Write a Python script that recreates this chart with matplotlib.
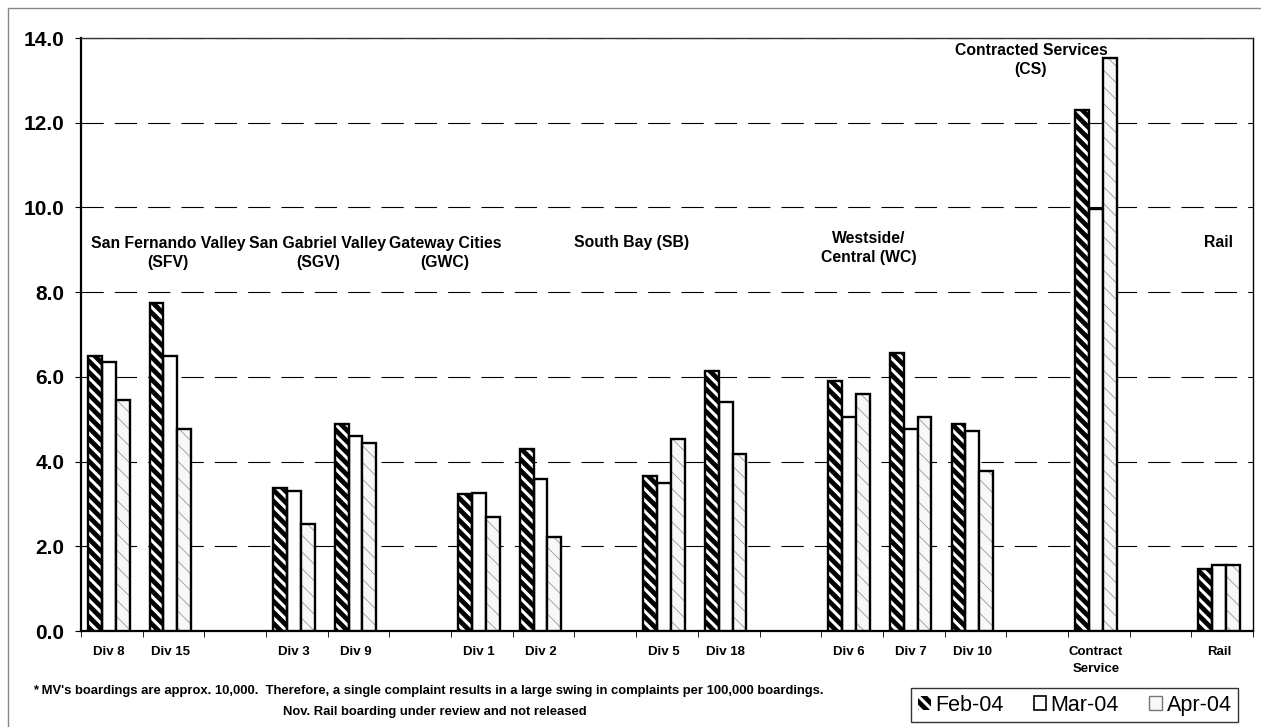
import matplotlib.pyplot as plt
from matplotlib.patches import Patch, Rectangle
import numpy as np

plt.rcParams['font.family'] = ['Liberation Sans', 'DejaVu Sans']

# category slots (blank strings are the gaps between regions)
categories = ['Div 8', 'Div 15', '', 'Div 3', 'Div 9', '', 'Div 1', 'Div 2', '',
              'Div 5', 'Div 18', '', 'Div 6', 'Div 7', 'Div 10', '',
              'Contract\nService', '', 'Rail']
feb_04 = [6.50, 7.75, np.nan, 3.38, 4.88, np.nan, 3.23, 4.30, np.nan,
          3.65, 6.15, np.nan, 5.90, 6.57, 4.88, np.nan, 12.30, np.nan, 1.47]
mar_04 = [6.36, 6.50, np.nan, 3.30, 4.60, np.nan, 3.27, 3.60, np.nan,
          3.50, 5.40, np.nan, 5.05, 4.77, 4.73, np.nan, 9.97, np.nan, 1.55]
apr_04 = [5.46, 4.77, np.nan, 2.52, 4.43, np.nan, 2.70, 2.22, np.nan,
          4.53, 4.17, np.nan, 5.60, 5.05, 3.77, np.nan, 13.53, np.nan, 1.55]
series_names = ['Feb-04', 'Mar-04', 'Apr-04']

# region headings: (text, x slot, y value)
regions = [('San Fernando Valley\n(SFV)', 0.91, 8.92),
           ('San Gabriel Valley\n(SGV)', 3.34, 8.92),
           ('Gateway Cities\n(GWC)', 5.40, 8.92),
           ('South Bay (SB)', 8.43, 9.18),
           ('Westside/\nCentral (WC)', 12.27, 9.05),
           ('Contracted Services\n(CS)', 14.9, 13.49),
           ('Rail', 17.94, 9.18)]

footnote_1 = ("* MV's boardings are approx. 10,000.  Therefore, a single complaint "
              "results in a large swing in complaints per 100,000 boardings.")
footnote_2 = "Nov. Rail boarding under review and not released"


def set_hatch_lw(bars, lw):
    for p in bars:
        if hasattr(p, 'set_hatch_linewidth'):
            p.set_hatch_linewidth(lw)


fig = plt.figure(figsize=(12.61, 7.27), dpi=100)
ax = fig.add_axes([0.0642, 0.132, 0.9295, 0.8157])

x = np.arange(len(categories))
w = 0.225
off = -0.05

# Feb: black bars with white diagonal stripes
plt.rcParams['hatch.linewidth'] = 2.2
b = ax.bar(x + off - w, feb_04, w, color='black', edgecolor='white',
           hatch='\\\\\\', linewidth=0, zorder=3)
set_hatch_lw(b, 2.2)
ax.bar(x + off - w, feb_04, w, fill=False, edgecolor='black', linewidth=1.7, zorder=4)

# Mar: plain white bars
ax.bar(x + off, mar_04, w, color='white', edgecolor='black', linewidth=1.7, zorder=3)

# Apr: near-white bars with thin grey hatch
plt.rcParams['hatch.linewidth'] = 0.6
b = ax.bar(x + off + w, apr_04, w, color='#f8f8f8', edgecolor='#999999',
           hatch='\\\\', linewidth=0, zorder=3)
set_hatch_lw(b, 0.6)
ax.bar(x + off + w, apr_04, w, fill=False, edgecolor='black', linewidth=1.7, zorder=4)

ax.set_xlim(-0.5, len(categories) - 0.5)
ax.set_ylim(0, 14)
ax.set_yticks(np.arange(0, 14.1, 2))
ax.set_yticklabels(['%.1f' % v for v in np.arange(0, 14.1, 2)],
                   fontsize=15, fontweight='bold')
ax.yaxis.grid(True, color='black', linestyle=(0, (20, 10)), linewidth=0.8, zorder=1)
ax.set_axisbelow(True)

# category labels centred under each slot, ticks on slot boundaries
ax.set_xticks(x + off)
ax.set_xticklabels(categories, fontsize=9.5, fontweight='bold', linespacing=1.5)
ax.tick_params(axis='x', length=0, pad=11)
ax.set_xticks(np.arange(-0.5, len(categories), 1), minor=True)
ax.tick_params(axis='x', which='minor', length=4, direction='out')
ax.tick_params(axis='y', length=4, pad=8)

for s in ['left', 'bottom']:
    ax.spines[s].set_linewidth(1.6)
ax.spines['top'].set_linewidth(1.0)
ax.spines['top'].set_color('#333333')
ax.spines['right'].set_linewidth(1.0)

for label, xp, yp in regions:
    ax.text(xp, yp, label, ha='center', va='center', fontsize=11.3,
            fontweight='bold', linespacing=1.35, zorder=5)

fig.text(0.026, 0.049, footnote_1, fontsize=9.4, fontweight='bold', va='center')
fig.text(0.345, 0.021, footnote_2, fontsize=9.4, fontweight='bold',
         ha='center', va='center')

# legend
plt.rcParams['hatch.linewidth'] = 2.2
handles = [Patch(facecolor='black', edgecolor='white', hatch='\\\\\\', linewidth=0),
           Patch(facecolor='white', edgecolor='black', linewidth=1.2),
           Patch(facecolor='#f8f8f8', edgecolor='#777777', hatch='\\', linewidth=1.0)]
leg = fig.legend(handles, series_names, loc='center', ncol=3,
                 bbox_to_anchor=(0.8522, 0.030), fontsize=15.5,
                 handlelength=0.6, handleheight=0.6, handletextpad=0.2,
                 columnspacing=1.4, frameon=True, fancybox=False,
                 edgecolor='black', borderpad=0.3, borderaxespad=0)
leg.get_frame().set_linewidth(1.0)

# outer border of the chart
fig.patches.append(Rectangle((8 / 1261, -0.1), 1.2, 1 - 8 / 727 + 0.1,
                             transform=fig.transFigure, fill=False,
                             edgecolor='#888888', linewidth=1.0))

fig.savefig('out.png', dpi=100)
